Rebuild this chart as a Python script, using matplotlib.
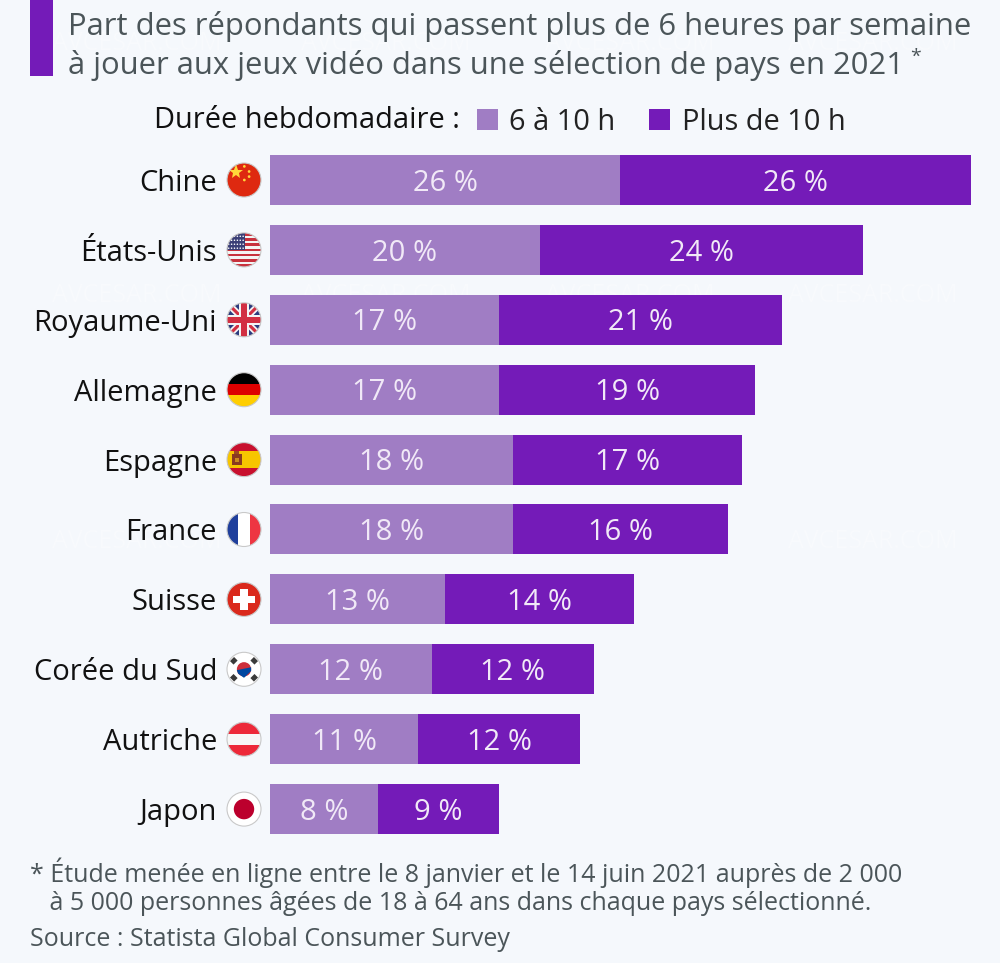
import numpy as np
import matplotlib
matplotlib.use("Agg")
import matplotlib.pyplot as plt
from matplotlib.patches import Circle, Rectangle, Polygon

countries = ["Chine", "États-Unis", "Royaume-Uni", "Allemagne", "Espagne", "France",
             "Suisse", "Corée du Sud", "Autriche", "Japon"]
mid_hours = [26, 20, 17, 17, 18, 18, 13, 12, 11, 8]
over_ten = [26, 24, 21, 19, 17, 16, 14, 12, 12, 9]
series_names = ["6 à 10 h", "Plus de 10 h"]
title_lines = ["Part des répondants qui passent plus de 6 heures par semaine",
               "à jouer aux jeux vidéo dans une sélection de pays en 2021"]
notes = ["* Étude menée en ligne entre le 8 janvier et le 14 juin 2021 auprès de 2 000",
         "   à 5 000 personnes âgées de 18 à 64 ans dans chaque pays sélectionné.",
         "Source : Statista Global Consumer Survey"]

BG = "#f5f8fc"; C1 = "#a07dc4"; C2 = "#741bb8"; TXT = "#4b5559"
plt.rcParams["font.family"] = ["Open Sans", "DejaVu Sans"]
W, H = 1000, 963
STEP = 69.9
fig = plt.figure(figsize=(W/100, H/100), dpi=100, facecolor=BG)

# overlay in pixel coordinates
ov = fig.add_axes([0, 0, 1, 1], zorder=1)
ov.set_xlim(0, W); ov.set_ylim(H, 0); ov.axis("off")

# watermark
for wy in (43, 295, 542):
    for wx in (137, 386, 630, 873):
        ov.text(wx, wy, "AVCESAR.COM", color="#f8fafd", fontsize=18, ha="center", va="center", zorder=0)

# bars axis: rows are STEP px apart, first row centred at y=180
x0 = 270; ppu = 13.48
top = 180 - STEP/2
bottom = top + 10*STEP
ax = fig.add_axes([x0/W, 1-bottom/H, (W-x0)/W, (bottom-top)/H], zorder=2)
ax.patch.set_alpha(0)
y = np.arange(len(countries))
ax.barh(y, mid_hours, height=50/STEP, color=C1, label=series_names[0])
ax.barh(y, over_ten, left=mid_hours, height=50/STEP, color=C2, label=series_names[1])
ax.set_xlim(0, (W-x0)/ppu)
ax.set_ylim(9.5, -0.5)
ax.set_yticks(y, [])
ax.set_xticks([])
for s in ax.spines.values():
    s.set_visible(False)
ax.tick_params(left=False)
for i, (a, b) in enumerate(zip(mid_hours, over_ten)):
    ax.text(a/2, i+0.045, f"{a} %", color="#f1e9f7", fontsize=21, ha="center", va="center")
    ax.text(a+b/2, i+0.045, f"{b} %", color="#f1e9f7", fontsize=21, ha="center", va="center")
    ov.text(217, 183.5+STEP*i, countries[i], color="#111111", fontsize=21, ha="right", va="center")

# title
ov.add_patch(Rectangle((30, 0), 23, 76, color=C2, lw=0))
ov.text(68, 26.5, title_lines[0], color=TXT, fontsize=22.3, va="center")
ov.text(68, 65.5, title_lines[1], color=TXT, fontsize=22.3, va="center")
ov.text(910, 57, "*", color=TXT, fontsize=14, va="center")

# legend
ov.text(154, 121, "Durée hebdomadaire :", color="#111111", fontsize=20.9, va="center")
ov.add_patch(Rectangle((477, 109), 21, 21, color=C1, lw=0))
ov.text(509, 122, series_names[0], color="#222222", fontsize=20.9, va="center")
ov.add_patch(Rectangle((649, 109), 21, 21, color=C2, lw=0))
ov.text(682, 122, series_names[1], color="#222222", fontsize=20.9, va="center")

# notes
ov.text(30, 873, notes[0], color=TXT, fontsize=18, va="center")
ov.text(30, 903, notes[1], color=TXT, fontsize=18, va="center")
ov.text(30, 939, notes[2], color=TXT, fontsize=18, va="center")


def flag(i):
    cx, cy, r = 244, 180 + STEP*i, 17
    clip = Circle((cx, cy), r, transform=ov.transData)
    def rect(x, y_, w, h, c, z=3):
        p = Rectangle((cx+x*r, cy+y_*r), w*r, h*r, color=c, lw=0, zorder=z)
        ov.add_patch(p); p.set_clip_path(clip); return p
    def poly(pts, c, z=4):
        p = Polygon([(cx+a*r, cy+b*r) for a, b in pts], color=c, lw=0, zorder=z)
        ov.add_patch(p); p.set_clip_path(clip); return p
    def dot(x, y_, rad, c, z=4):
        p = Circle((cx+x*r, cy+y_*r), rad*r, color=c, lw=0, zorder=z)
        ov.add_patch(p); p.set_clip_path(clip); return p
    n = countries[i]
    if n == "Chine":
        rect(-1, -1, 2, 2, "#de2910")
        ov.plot([cx-0.45*r], [cy-0.45*r], marker="*", ms=11, color="#ffd83a", mew=0, zorder=5)
        for a, b in [(0.02, -0.8), (0.3, -0.5), (0.3, -0.2), (0.02, 0.0)]:
            dot(a, b, 0.08, "#ffd83a")
    elif n == "États-Unis":
        for k in range(13):
            rect(-1, -1+k*2/13, 2, 2/13, "#c8323e" if k % 2 == 0 else "#f4f4f4")
        rect(-1, -1, 1.05, 1.0, "#3b3f77", 4)
        for a in np.linspace(-0.9, -0.05, 6):
            for b in np.linspace(-0.8, -0.1, 4):
                dot(a, b, 0.045, "#ffffff", 5)
    elif n == "Royaume-Uni":
        rect(-1, -1, 2, 2, "#2b3a7e")
        w = 0.28; v = 0.13
        poly([(-1-w, -1), (-1, -1-w), (1+w, 1), (1, 1+w)], "#f4f4f4")
        poly([(1+w, -1), (1, -1-w), (-1-w, 1), (-1, 1+w)], "#f4f4f4")
        poly([(-1-v, -1), (-1, -1-v), (1+v, 1), (1, 1+v)], "#d22f42", 5)
        poly([(1+v, -1), (1, -1-v), (-1-v, 1), (-1, 1+v)], "#d22f42", 5)
        rect(-0.3, -1, 0.6, 2, "#f4f4f4", 6); rect(-1, -0.3, 2, 0.6, "#f4f4f4", 6)
        rect(-0.17, -1, 0.34, 2, "#d22f42", 7); rect(-1, -0.17, 2, 0.34, "#d22f42", 7)
    elif n == "Allemagne":
        rect(-1, -1, 2, 0.67, "#000000"); rect(-1, -0.33, 2, 0.67, "#dd0000"); rect(-1, 0.33, 2, 0.67, "#ffce00")
    elif n == "Espagne":
        rect(-1, -1, 2, 2, "#c8102e"); rect(-1, -0.5, 2, 1, "#f7c500", 4)
        rect(-0.72, -0.3, 0.58, 0.6, "#8a3a20", 5); rect(-0.58, -0.5, 0.3, 0.2, "#9c4a20", 5)
        rect(-0.55, -0.1, 0.24, 0.24, "#c98a20", 6)
    elif n == "France":
        rect(-1, -1, 0.67, 2, "#1f3f9c"); rect(-0.33, -1, 0.67, 2, "#ffffff"); rect(0.33, -1, 0.67, 2, "#ee3542")
    elif n == "Suisse":
        rect(-1, -1, 2, 2, "#da291c")
        rect(-0.22, -0.62, 0.44, 1.24, "#ffffff", 4); rect(-0.62, -0.22, 1.24, 0.44, "#ffffff", 4)
    elif n == "Corée du Sud":
        rect(-1, -1, 2, 2, "#ffffff")
        dot(0, 0, 0.42, "#cd2e3a", 4)
        poly([(-0.42, 0.05), (0.42, -0.12), (0.42, 0.1), (0, 0.5), (-0.35, 0.25)], "#0047a0", 5)
        for a, b, ang in [(-0.6, -0.5, -45), (0.6, -0.5, 45), (-0.6, 0.5, 45), (0.6, 0.5, -45)]:
            ca, sa = np.cos(np.radians(ang)), np.sin(np.radians(ang))
            ov.plot([cx+(a-0.17*ca)*r, cx+(a+0.17*ca)*r], [cy+(b-0.17*sa)*r, cy+(b+0.17*sa)*r],
                    color="#3a3a3a", lw=3.6, zorder=5, solid_capstyle="butt")
    elif n == "Autriche":
        rect(-1, -1, 2, 0.67, "#ed2939"); rect(-1, -0.33, 2, 0.67, "#f7f7f7"); rect(-1, 0.33, 2, 0.67, "#ed2939")
    elif n == "Japon":
        rect(-1, -1, 2, 2, "#ffffff"); dot(0, 0, 0.6, "#bc002d")
    ov.add_patch(Circle((cx, cy), r, fc="none", ec="#c9c9c9", lw=0.8, zorder=9))

for i in range(len(countries)):
    flag(i)

fig.savefig("out.png", dpi=100, facecolor=BG)
